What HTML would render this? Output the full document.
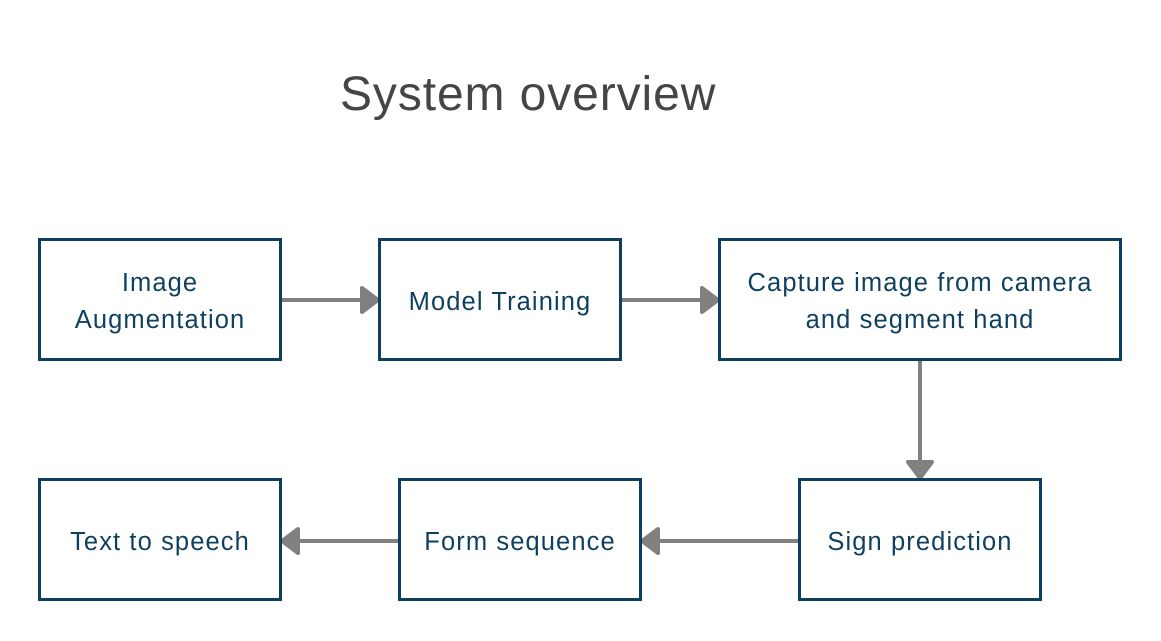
<!DOCTYPE html>
<html><head><style>
body{margin:0;width:1161px;height:641px;background:#fff;overflow:hidden;font-family:"Liberation Sans",sans-serif}
.t{position:absolute;left:340px;top:67px;font-size:48px;letter-spacing:0.9px;color:#454545;white-space:nowrap}
.b{position:absolute;box-sizing:border-box;border:3px solid #0f3f5f;padding-top:5px;display:flex;align-items:center;justify-content:center;text-align:center;color:#0f3f5f;font-size:25.5px;letter-spacing:1.1px;line-height:37px;white-space:nowrap}
</style></head><body>
<div class="t">System overview</div>
<svg width="1161" height="641" style="position:absolute;left:0;top:0">
<g stroke="#808080" stroke-width="4" fill="#808080" stroke-linejoin="round">
<line x1="281" y1="300" x2="364" y2="300"/><polygon points="362,288 378,300 362,312"/>
<line x1="621" y1="300" x2="704" y2="300"/><polygon points="702,288 718,300 702,312"/>
<line x1="920" y1="360" x2="920" y2="464"/><polygon points="908,462 920,478 932,462"/>
<line x1="799" y1="541" x2="656" y2="541"/><polygon points="658,529 642,541 658,553"/>
<line x1="399" y1="541" x2="296" y2="541"/><polygon points="298,529 282,541 298,553"/>
</g></svg>
<div class="b" style="left:38px;top:238px;width:244px;height:123px">Image<br>Augmentation</div>
<div class="b" style="left:378px;top:238px;width:244px;height:123px">Model Training</div>
<div class="b" style="left:718px;top:238px;width:404px;height:123px">Capture image from camera<br>and segment hand</div>
<div class="b" style="left:798px;top:478px;width:244px;height:123px">Sign prediction</div>
<div class="b" style="left:398px;top:478px;width:244px;height:123px">Form sequence</div>
<div class="b" style="left:38px;top:478px;width:244px;height:123px">Text to speech</div>
</body></html>
